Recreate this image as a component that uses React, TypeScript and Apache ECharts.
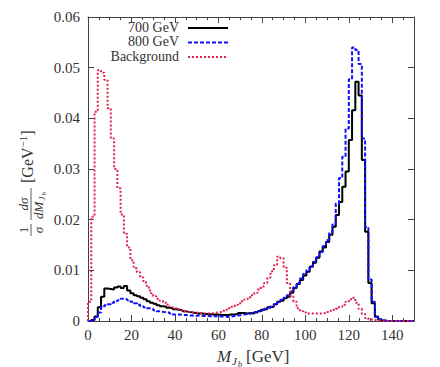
import React, { useEffect, useRef } from 'react';
import * as echarts from 'echarts';

// Histogram bins: 100 bins of 1.5 GeV from 0 to 150 GeV
const BIN_WIDTH = 1.5;
const X_MIN = 0;
const X_MAX = 150;
const Y_MIN = 0;
const Y_MAX = 0.06;

const seriesNames = ['700 GeV', '800 GeV', 'Background'];

const sig700 = [
  0, 0.0002, 0.0009, 0.0027, 0.0048, 0.0064, 0.0063, 0.0062, 0.0066, 0.0068,
  0.0065, 0.0069, 0.0060, 0.0055, 0.0051, 0.0049, 0.0046, 0.0043, 0.0039, 0.0036,
  0.0034, 0.0031, 0.0029, 0.0028, 0.0026, 0.0025, 0.0023, 0.0022, 0.0021, 0.0019,
  0.0018, 0.0017, 0.0016, 0.0015, 0.0015, 0.0014, 0.0014, 0.0013, 0.0013, 0.0013,
  0.0012, 0.0012, 0.0012, 0.0013, 0.0013, 0.0014, 0.0016, 0.0016, 0.0015, 0.0016,
  0.0015, 0.0017, 0.0019, 0.0022, 0.0023, 0.0027, 0.0028, 0.0033, 0.0038, 0.0040,
  0.0045, 0.0048, 0.0056, 0.0065, 0.0073, 0.0081, 0.0090, 0.0097, 0.0107, 0.0115,
  0.0125, 0.0137, 0.0145, 0.0156, 0.0170, 0.0186, 0.0209, 0.0235, 0.0265, 0.0295,
  0.0357, 0.0416, 0.0472, 0.0445, 0.0318, 0.0176, 0.0075, 0.0035, 0.0009, 0.0003,
  0.0001, 0, 0, 0, 0, 0, 0, 0, 0, 0,
];

const sig800 = [
  0, 0.0002, 0.0008, 0.0017, 0.0027, 0.0031, 0.0033, 0.0036, 0.0039, 0.0041,
  0.0044, 0.0043, 0.0041, 0.0038, 0.0035, 0.0032, 0.0029, 0.0027, 0.0025, 0.0024,
  0.0021, 0.0019, 0.0018, 0.0017, 0.0017, 0.0015, 0.0013, 0.0013, 0.0012, 0.0012,
  0.0011, 0.0011, 0.0010, 0.0011, 0.0010, 0.0010, 0.0010, 0.0009, 0.0010, 0.0009,
  0.0009, 0.0009, 0.0008, 0.0009, 0.0010, 0.0011, 0.0012, 0.0013, 0.0014, 0.0015,
  0.0016, 0.0018, 0.0020, 0.0021, 0.0024, 0.0026, 0.0029, 0.0033, 0.0037, 0.0042,
  0.0046, 0.0051, 0.0058, 0.0067, 0.0075, 0.0084, 0.0093, 0.0100, 0.0108, 0.0117,
  0.0126, 0.0136, 0.0148, 0.0160, 0.0175, 0.0192, 0.0232, 0.0282, 0.0324, 0.0380,
  0.0477, 0.0540, 0.0535, 0.0507, 0.0360, 0.0186, 0.0082, 0.0038, 0.0008, 0.0003,
  0.0001, 0, 0, 0, 0, 0, 0, 0, 0, 0,
];

const background = [
  0.0038, 0.0206, 0.0413, 0.0495, 0.0490, 0.0476, 0.0420, 0.0360, 0.0300, 0.0262,
  0.0210, 0.0172, 0.0145, 0.0120, 0.0104, 0.0096, 0.0086, 0.0076, 0.0066, 0.0055,
  0.0049, 0.0044, 0.0040, 0.0036, 0.0032, 0.0028, 0.0026, 0.0023, 0.0021, 0.0019,
  0.0018, 0.0017, 0.0017, 0.0016, 0.0016, 0.0015, 0.0015, 0.0015, 0.0016, 0.0017,
  0.0018, 0.0020, 0.0022, 0.0025, 0.0028, 0.0032, 0.0035, 0.0039, 0.0043, 0.0047,
  0.0051, 0.0056, 0.0062, 0.0068, 0.0075, 0.0086, 0.0098, 0.0110, 0.0127, 0.0124,
  0.0105, 0.0075, 0.0050, 0.0038, 0.0025, 0.0019, 0.0017, 0.0015, 0.0015, 0.0015,
  0.0015, 0.0015, 0.0016, 0.0018, 0.0020, 0.0022, 0.0024, 0.0028, 0.0032, 0.0038,
  0.0043, 0.0046, 0.0036, 0.0024, 0.0014, 0.0006, 0.0003, 0.0002, 0.0001, 0,
  0, 0, 0, 0, 0, 0, 0, 0, 0, 0,
];

const SERIF = '"Liberation Serif", "DejaVu Serif", serif';
const AXIS_COLOR = '#444';
const TEXT_COLOR = '#333';
const COLORS = ['#000000', '#1010ff', '#e0204c'];
const LINE_TYPES: any[] = ['solid', [4, 2], [2, 2]];

function toSteps(values: number[]) {
  const pts: number[][] = [[X_MIN, 0]];
  values.forEach((v, i) => pts.push([X_MIN + i * BIN_WIDTH, v]));
  pts.push([X_MIN + values.length * BIN_WIDTH, values[values.length - 1]]);
  return pts;
}

const GRID = { left: 88, top: 17, right: 26, bottom: 46 };

function buildOption() {
  const datasets = [sig700, sig800, background];
  const series = datasets.map((vals, k) => ({
    name: seriesNames[k],
    type: 'line',
    step: 'end',
    xAxisIndex: 0,
    yAxisIndex: 0,
    data: toSteps(vals),
    symbol: 'none',
    showSymbol: false,
    lineStyle: { color: COLORS[k], width: 2, type: LINE_TYPES[k] },
    z: 2 + k,
    clip: true,
  }));

  const txt = (x: number, y: number, text: string, font: string, align = 'left', lh?: number) => ({
    type: 'text',
    x,
    y,
    style: {
      text,
      font,
      fill: TEXT_COLOR,
      textAlign: align,
      align,
      textVerticalAlign: 'middle',
      verticalAlign: 'middle',
      lineHeight: lh,
    },
  });

  const legendY = [27, 41.5, 56];
  const legendEls: any[] = [];
  seriesNames.forEach((n, k) => {
    legendEls.push(txt(179, legendY[k], n, `14px ${SERIF}`, 'right', 13));
    legendEls.push({
      type: 'line',
      shape: { x1: 188, y1: legendY[k] + 1, x2: 228, y2: legendY[k] + 1 },
      style: { stroke: COLORS[k], lineWidth: 2, lineDash: LINE_TYPES[k] === 'solid' ? null : LINE_TYPES[k] },
    });
  });

  // x-axis title: M_{J_b} [GeV]
  const xTitle = [
    txt(217, 356, 'M', `italic 17px ${SERIF}`),
    txt(232, 361, 'J', `italic 11px ${SERIF}`),
    txt(238, 364, 'b', `italic 8px ${SERIF}`),
    txt(246, 356, '[GeV]', `17px ${SERIF}`),
  ];

  // y-axis title, rotated: (1/σ) (dσ/dM_{J_b}) [GeV^-1]
  const yTitle = {
    type: 'group',
    x: 31,
    y: 236,
    rotation: Math.PI / 2,
    children: [
      txt(6, -8, '1', `13px ${SERIF}`, 'center'),
      { type: 'line', shape: { x1: 0, y1: 0, x2: 12, y2: 0 }, style: { stroke: TEXT_COLOR, lineWidth: 0.8 } },
      txt(6, 7, 'σ', `italic 13px ${SERIF}`, 'center'),
      txt(32, -8, 'dσ', `italic 13px ${SERIF}`, 'center'),
      { type: 'line', shape: { x1: 16, y1: 0, x2: 48, y2: 0 }, style: { stroke: TEXT_COLOR, lineWidth: 0.8 } },
      txt(17, 7, 'dM', `italic 13px ${SERIF}`),
      txt(35.5, 11, 'J', `italic 9px ${SERIF}`),
      txt(40.5, 13, 'b', `italic 7px ${SERIF}`),
      {
        type: 'text',
        x: 53,
        y: -4,
        style: {
          text: '{a|[GeV}{s|−1}{a|]}',
          fill: TEXT_COLOR,
          textVerticalAlign: 'middle',
          verticalAlign: 'middle',
          rich: {
            a: { font: `16px ${SERIF}`, fill: TEXT_COLOR, lineHeight: 20 },
            s: { font: `11px ${SERIF}`, fill: TEXT_COLOR, verticalAlign: 'top', lineHeight: 11 },
          },
        },
      },
    ],
  };

  const axisLabelStyle = { fontFamily: SERIF, fontSize: 15, color: TEXT_COLOR };

  return {
    animation: false,
    backgroundColor: '#ffffff',
    grid: [
      { ...GRID, containLabel: false },
      { ...GRID, containLabel: false },
    ],
    xAxis: [
      {
        gridIndex: 0,
        type: 'value',
        position: 'bottom',
        min: X_MIN,
        max: X_MAX,
        interval: 20,
        axisLine: { show: true, onZero: false, lineStyle: { color: AXIS_COLOR, width: 1 } },
        axisTick: { show: true, inside: true, length: 6, lineStyle: { color: AXIS_COLOR } },
        axisLabel: { ...axisLabelStyle, margin: 6, showMaxLabel: false },
        splitLine: { show: false },
      },
      {
        gridIndex: 0,
        type: 'value',
        position: 'top',
        min: X_MIN,
        max: X_MAX,
        interval: 20,
        axisLine: { show: true, onZero: false, lineStyle: { color: AXIS_COLOR, width: 1 } },
        axisTick: { show: true, inside: true, length: 6, lineStyle: { color: AXIS_COLOR } },
        axisLabel: { show: false },
        splitLine: { show: false },
      },
      {
        gridIndex: 1,
        type: 'value',
        position: 'bottom',
        min: X_MIN,
        max: X_MAX,
        interval: 5,
        axisLine: { show: false, onZero: false },
        axisTick: { show: true, inside: true, length: 3, lineStyle: { color: AXIS_COLOR } },
        axisLabel: { show: false },
        splitLine: { show: false },
      },
      {
        gridIndex: 1,
        type: 'value',
        position: 'top',
        min: X_MIN,
        max: X_MAX,
        interval: 5,
        axisLine: { show: false, onZero: false },
        axisTick: { show: true, inside: true, length: 3, lineStyle: { color: AXIS_COLOR } },
        axisLabel: { show: false },
        splitLine: { show: false },
      },
    ],
    yAxis: [
      {
        gridIndex: 0,
        type: 'value',
        position: 'left',
        min: Y_MIN,
        max: Y_MAX,
        interval: 0.01,
        axisLine: { show: true, onZero: false, lineStyle: { color: AXIS_COLOR, width: 1 } },
        axisTick: { show: true, inside: true, length: 6, lineStyle: { color: AXIS_COLOR } },
        axisLabel: {
          ...axisLabelStyle,
          margin: 8,
          formatter: (v: number) => (Math.abs(v) < 1e-9 ? '0' : v.toFixed(2)),
        },
        splitLine: { show: false },
      },
      {
        gridIndex: 0,
        type: 'value',
        position: 'right',
        min: Y_MIN,
        max: Y_MAX,
        interval: 0.01,
        axisLine: { show: true, onZero: false, lineStyle: { color: AXIS_COLOR, width: 1 } },
        axisTick: { show: true, inside: true, length: 6, lineStyle: { color: AXIS_COLOR } },
        axisLabel: { show: false },
        splitLine: { show: false },
      },
      {
        gridIndex: 1,
        type: 'value',
        min: Y_MIN,
        max: Y_MAX,
        show: false,
      },
    ],
    series,
    graphic: [...legendEls, ...xTitle, yTitle],
  };
}

export default function App() {
  const ref = useRef<HTMLDivElement>(null);
  useEffect(() => {
    if (!ref.current) return;
    const chart = echarts.init(ref.current, null, { renderer: 'svg' });
    chart.setOption(buildOption() as any);
    return () => chart.dispose();
  }, []);
  return (
    <div
      ref={ref}
      style={{ position: 'fixed', left: 0, top: 0, width: 440, height: 367, background: '#fff' }}
    />
  );
}
